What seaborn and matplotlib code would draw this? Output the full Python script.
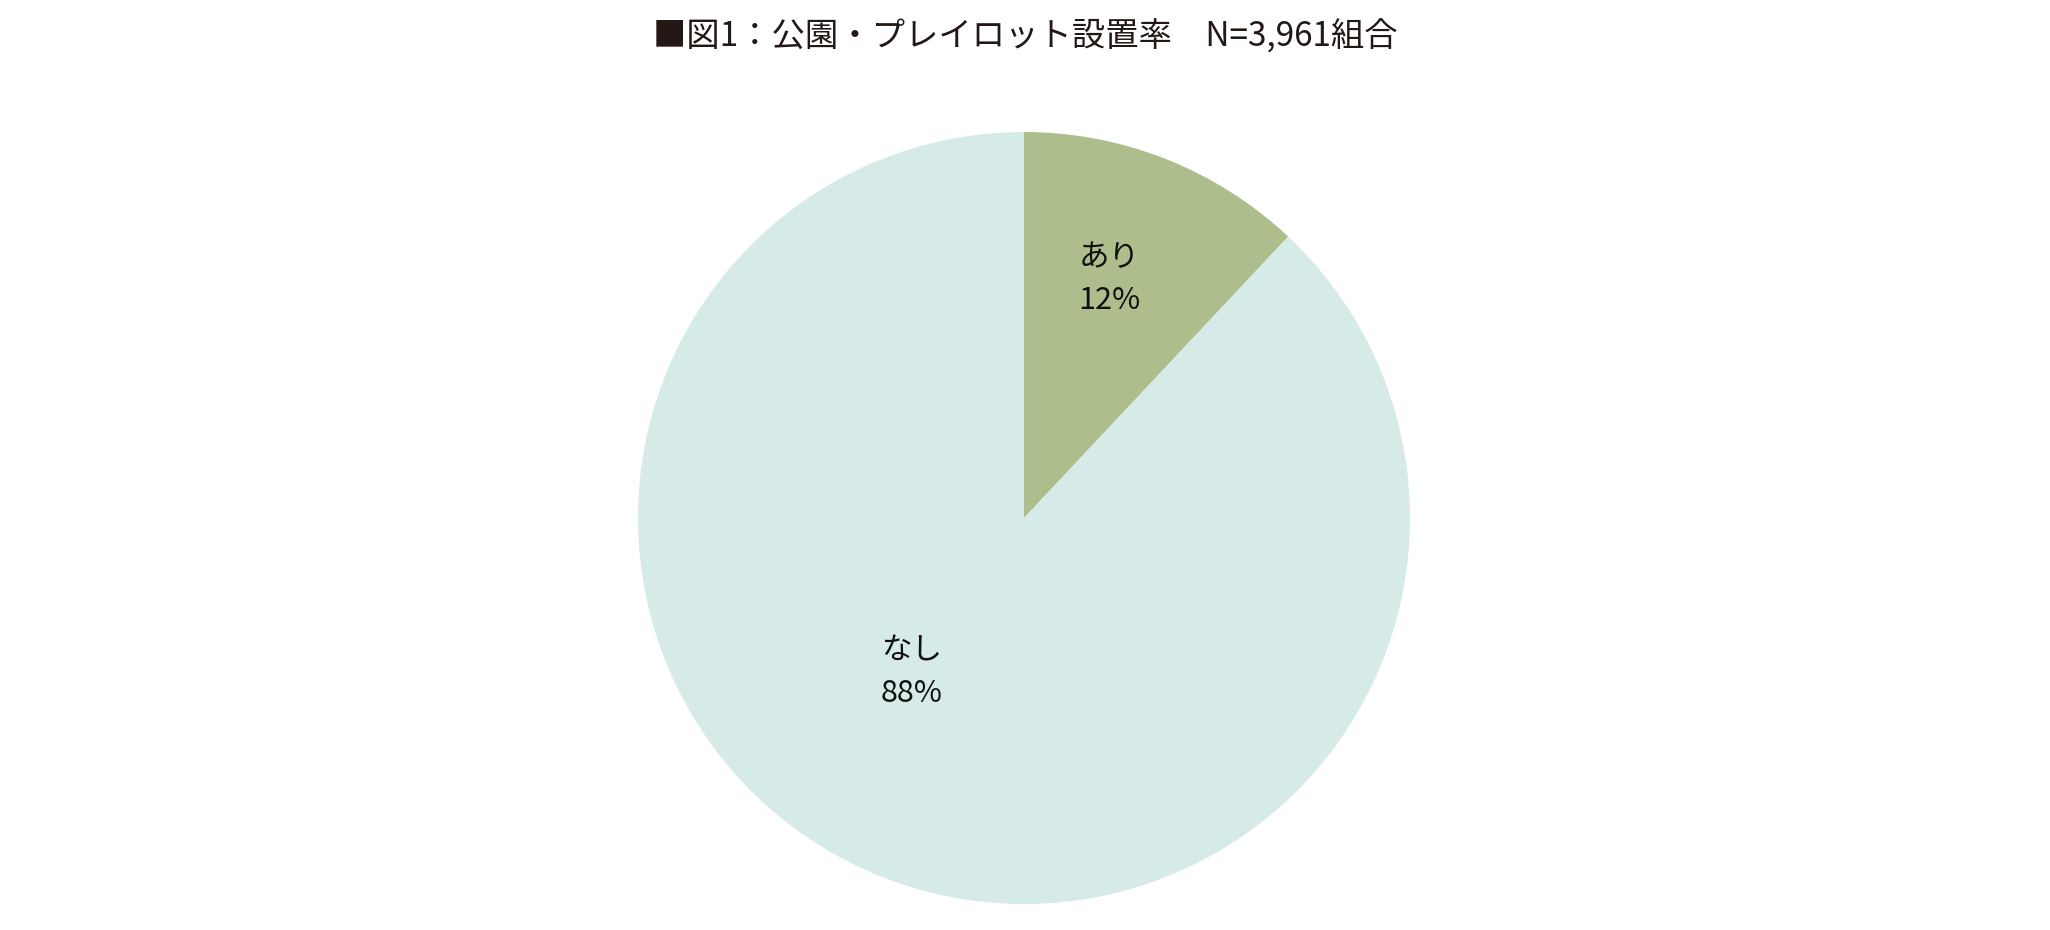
import matplotlib
matplotlib.use("Agg")
import matplotlib.pyplot as plt
import seaborn as sns

categories = ["あり", "なし"]
shares = [12, 88]
colors = ["#adbd8c", "#d6ebe7"]
label_pos = [(0.22, 0.62), (-0.29, -0.40)]

sns.set_theme(style="white")
plt.rcParams['font.family'] = ['Noto Sans CJK JP', 'DejaVu Sans']

fig = plt.figure(figsize=(20.5, 9.3), dpi=100)
ax = fig.add_axes([(1024 - 386) / 2050, (412 - 386) / 930, 772 / 2050, 772 / 930])
ax.pie(shares, colors=colors, startangle=90, counterclock=False,
       wedgeprops=dict(linewidth=0))
for cat, val, (x, y) in zip(categories, shares, label_pos):
    ax.text(x, y, f"{cat}\n{val}%", ha="center", va="center", fontsize=22,
            linespacing=1.5, color="#111111")
ax.set_xlim(-1, 1)
ax.set_ylim(-1, 1)
fig.text(0.5, 0.96, "■図1：公園・プレイロット設置率　N=3,961組合", ha="center", va="center",
         fontsize=24, color="#231815")
fig.savefig("out.png", dpi=100, facecolor="white")
